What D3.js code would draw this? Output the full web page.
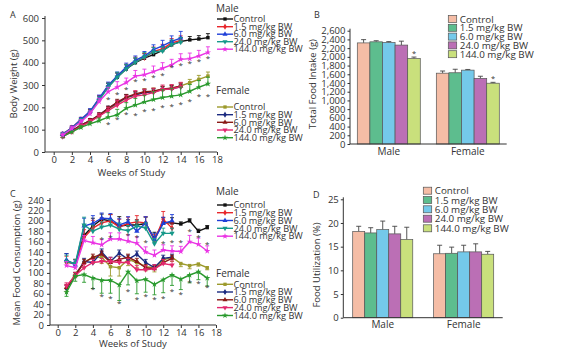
<!DOCTYPE html>
<html>
<head>
<meta charset="utf-8">
<script src="https://cdn.jsdelivr.net/npm/d3@7"></script>
<style>
    body { margin: 0; background: #fff; }
    text { font-family: "Open Sans", "Noto Sans", sans-serif; fill: #333; }
</style>
</head>
<body>
<svg id="fig" width="561" height="352"></svg>
<script>
// ---- shared
const doses = ["Control", "1.5 mg/kg BW", "6.0 mg/kg BW", "24.0 mg/kg BW", "144.0 mg/kg BW"];
const weeks17 = [1,2,3,4,5,6,7,8,9,10,11,12,13,14,15,16,17];
const weeks14 = [1,2,3,4,5,6,7,8,9,10,11,12,13,14];
const weeks13 = [1,2,3,4,5,6,7,8,9,10,11,12,13];
const weekTicks = [0,2,4,6,8,10,12,14,16,18];

// ---- A: body weight (g)
const bwMaleCtrl = [78,105,140,178,235,292,335,372,400,420,436,455,480,495,502,506,512];
const bwMale15   = [80,108,145,180,238,295,338,375,405,422,450,462,488,500];
const bwMale60   = [80,108,145,182,240,298,340,380,410,430,458,475,495,510];
const bwMale240  = [78,105,140,175,232,290,335,372,402,425,448,452,482,492];
const bwMale1440 = [76,105,135,172,226,270,290,311,340,346,360,375,390,415,418,430,446];
const bwFemCtrl  = [70,95,115,138,160,192,215,242,255,268,272,280,286,296,310,325,340];
const bwFem15    = [70,95,120,140,165,195,220,245,256,266,270,280,284,292];
const bwFem60    = [70,95,120,140,165,195,224,246,260,270,272,282,286,296];
const bwFem240   = [70,90,115,135,160,185,210,232,250,256,266,280,282,292];
const bwFem1440  = [70,90,110,126,140,156,166,196,210,224,235,244,250,256,272,290,305];
const bwMaleErr  = [[8,8,10,12,15,15,18,18,20,20,20,18,18,18,15,15,18],
                    [8,10,10,12,15,15,18,18,20,20,20,20,20,20],
                    [8,8,10,12,15,15,18,18,20,20,22,25,25,30],
                    [8,8,10,12,15,18,22,20,20,20,20,20,20,20],
                    [8,8,10,12,15,20,25,20,25,25,25,25,25,25,25,25,25]];
const bwFemErr   = [[8,8,8,8,10,10,12,15,15,15,15,15,15,15,15,18,18],
                    [8,8,8,10,10,10,12,12,12,12,12,12,12,12],
                    [8,8,8,10,10,10,12,12,12,12,12,12,12,12],
                    [8,8,8,10,12,15,20,20,25,25,20,20,20,20],
                    [8,8,8,10,12,20,25,25,30,30,35,35,35,35,30,30,30]];
const bwStars = [[6,244],[7,266],[8,286],[9,323],[10,326],[11,341],[12,350],[13,383],[14,394],[15,404],[16,413],[17,425],
                 [6,129],[7,151],[8,174],[9,169],[10,189],[11,192],[12,204],[13,211],[14,219],[15,234],[16,256],[17,256]];

// ---- C: mean food consumption (g)
const fcMaleCtrl = [122,118,172,190,203,200,190,192,192,195,166,196,196,194,200,180,187];
const fcMale15   = [120,118,168,186,196,200,188,195,198,196,162,203,186];
const fcMale60   = [125,115,190,195,205,204,192,198,180,196,164,195,200];
const fcMale240  = [122,118,192,180,188,192,184,181,190,186,156,176,176];
const fcMale1440 = [114,110,162,158,154,165,165,161,157,140,134,144,142,141,160,155,142];
const fcFemCtrl  = [70,98,120,130,130,112,110,126,120,112,110,125,130,118,114,117,110];
const fcFem15    = [70,95,122,120,140,122,138,126,136,120,110,128,130];
const fcFem60    = [72,95,120,130,136,120,126,130,122,110,108,120,128];
const fcFem240   = [75,95,110,120,122,122,120,120,106,106,108,118,115];
const fcFem1440  = [63,94,97,90,86,86,77,102,85,88,78,87,96,88,96,102,90];
const fcMaleErr  = [[15,8,20,15,10,12,18,10,10,12,12,10,10,4,4,4,4],
                    [12,8,15,15,10,12,15,12,12,12,12,15,10],
                    [12,8,15,15,10,10,12,10,10,12,12,12,12],
                    [12,8,15,12,10,10,12,10,10,10,10,10,10],
                    [8,6,10,12,10,12,12,12,12,10,10,10,10,10,12,12,10]];
const fcFemErr   = [[6,6,10,12,12,18,16,12,10,8,8,8,8,6,6,4,4],
                    [6,6,6,8,6,8,6,8,6,6,6,6,6],
                    [6,6,6,6,6,6,6,6,6,6,6,6,6],
                    [6,6,6,6,6,8,6,8,8,8,8,8,8],
                    [8,10,15,20,25,25,30,25,25,25,20,25,20,20,15,15,15]];
const fcStars = [[5,168],[6,171],[8,174],[9,170],[10,161],[12,160],[13,161],[14,161],[15,182],[16,171],[17,158],
                 [4,72],[5,58],[6,54],[7,45],[8,67],[9,51],[10,58],[11,51],[12,54],[13,67],[14,61],[15,84],[16,82],[17,74]];

// ---- B: total food intake (g)
const intakeMale      = [2320,2345,2330,2270,1960];
const intakeMaleErr   = [75,25,20,90,35];
const intakeFemale    = [1625,1635,1695,1505,1395];
const intakeFemaleErr = [50,80,15,50,20];

// ---- D: food utilization (%)
const utilMale      = [18.2,17.9,18.6,17.7,16.5];
const utilMaleErr   = [1.1,1.1,1.8,1.6,2.6];
const utilFemale    = [13.5,13.6,13.9,13.9,13.4];
const utilFemaleErr = [1.8,1.3,1.4,1.7,0.6];

const maleColors = ["#111111", "#e8262b", "#2040d8", "#17998a", "#ea34e4"];
const femColors  = ["#9c9a2c", "#1b2a80", "#8a1a16", "#e2286e", "#2a9a2e"];
const barColors  = ["#f5bda6", "#5dbd8e", "#74c9ea", "#bb6fb5", "#c9e07c"];
const symbols = [d3.symbolSquare, d3.symbolDiamond, d3.symbolTriangle, d3.symbolTriangle, d3.symbolStar];

const svg = d3.select("#fig");

function linePanel(o) {
    const g = svg.append("g");
    const x = d3.scaleLinear().domain([0, 18]).range(o.xr);
    const y = d3.scaleLinear().domain([0, o.ymax]).range(o.yr);

    // axes
    const xa = g.append("g").attr("transform", "translate(0," + o.yr[0] + ")")
        .call(d3.axisBottom(x).tickValues(weekTicks).tickSize(3).tickSizeOuter(0));
    xa.select(".domain").remove();
    xa.selectAll("text").attr("font-size", 9.5).attr("y", 4);
    const ya = g.append("g").attr("transform", "translate(" + o.x0 + ",0)")
        .call(d3.axisLeft(y).tickValues(d3.range(0, o.ymax + 1, o.ystep)).tickSize(3).tickSizeOuter(0));
    ya.select(".domain").remove();
    ya.selectAll("text").attr("font-size", 9.5);
    g.selectAll(".tick line").attr("stroke", "#333");
    g.append("line").attr("x1", o.x0).attr("x2", o.x0).attr("y1", o.yr[0]).attr("y2", o.yr[1] - 2).attr("stroke", "#333");
    g.append("line").attr("x1", o.x0).attr("x2", o.xr[1]).attr("y1", o.yr[0]).attr("y2", o.yr[0]).attr("stroke", "#333");

    g.append("text").attr("x", (o.xr[0] + o.xr[1]) / 2 - 4).attr("y", o.xtitleY)
        .attr("text-anchor", "middle").attr("font-size", 9.5).text("Weeks of Study");
    g.append("text").attr("transform", "translate(" + o.ytitleX + "," + o.ytitleY + ") rotate(-90)")
        .attr("text-anchor", "middle").attr("font-size", 9.5).text(o.ytitle);
    g.append("text").attr("x", o.letter[0]).attr("y", o.letter[1]).attr("font-size", 9).text(o.letterText);

    const line = d3.line().x(d => x(d[0])).y(d => y(d[1]));

    o.series.forEach(function (s) {
        const pts = s.values.map((v, i) => [s.weeks[i], v]);
        const col = s.color;
        // error bars
        pts.forEach(function (p, i) {
            const e = s.err[i] * s.dir;
            g.append("line").attr("x1", x(p[0])).attr("x2", x(p[0]))
                .attr("y1", y(p[1])).attr("y2", y(p[1] + e)).attr("stroke", col).attr("stroke-width", 0.9);
            g.append("line").attr("x1", x(p[0]) - 2).attr("x2", x(p[0]) + 2)
                .attr("y1", y(p[1] + e)).attr("y2", y(p[1] + e)).attr("stroke", col).attr("stroke-width", 0.9);
        });
        g.append("path").datum(pts).attr("d", line).attr("fill", "none")
            .attr("stroke", col).attr("stroke-width", 1.4);
        g.selectAll(null).data(pts).enter().append("path")
            .attr("d", d3.symbol().type(symbols[s.k]).size(12))
            .attr("transform", d => "translate(" + x(d[0]) + "," + y(d[1]) + ")" + (s.k === 3 ? " rotate(180)" : ""))
            .attr("fill", col);
    });

    g.selectAll(null).data(o.stars).enter().append("text")
        .attr("x", d => x(d[0])).attr("y", d => y(d[1]) + 4)
        .attr("text-anchor", "middle").attr("font-size", 8).attr("fill", "#222").text("*");

    // legends
    o.legends.forEach(function (L) {
        g.append("text").attr("x", L.x - 1).attr("y", L.titleY + 3.5).attr("font-size", 10).text(L.title);
        L.rows.forEach(function (ry, k) {
            g.append("line").attr("x1", L.x).attr("x2", L.x + 16).attr("y1", ry).attr("y2", ry)
                .attr("stroke", L.colors[k]).attr("stroke-width", 1.4);
            g.append("path").attr("d", d3.symbol().type(symbols[k]).size(11)())
                .attr("transform", "translate(" + (L.x + 8) + "," + ry + ")" + (k === 3 ? " rotate(180)" : ""))
                .attr("fill", L.colors[k]);
            g.append("text").attr("x", L.x + 16.5).attr("y", ry + 3.2).attr("font-size", 9.2).text(doses[k]);
        });
    });
}

function barPanel(o) {
    const g = svg.append("g");
    const y = d3.scaleLinear().domain([0, o.ymax]).range(o.yr);
    const x0 = d3.scaleBand().domain(["Male", "Female"]).range(o.br).paddingInner(o.pin);
    const x1 = d3.scaleBand().domain(doses).range([0, x0.bandwidth()]);

    const ya = g.append("g").attr("transform", "translate(" + o.x0 + ",0)")
        .call(d3.axisLeft(y).tickValues(d3.range(0, o.ymax + 1, o.ystep)).tickSize(2.5).tickSizeOuter(0).tickFormat(o.fmt));
    ya.select(".domain").remove();
    ya.selectAll("text").attr("font-size", 9.5).attr("dx", "0.1em");
    ya.selectAll(".tick line").attr("stroke", "#333");
    g.append("line").attr("x1", o.x0).attr("x2", o.x0).attr("y1", o.yr[0]).attr("y2", o.yr[1] - 2).attr("stroke", "#333");

    const groups = [["Male", o.male, o.maleErr], ["Female", o.female, o.femaleErr]];
    groups.forEach(function (gr) {
        const gx = x0(gr[0]);
        gr[1].forEach(function (v, k) {
            const bx = gx + x1(doses[k]);
            const cx = bx + x1.bandwidth() / 2;
            const top = y(v + gr[2][k]);
            g.append("line").attr("x1", cx).attr("x2", cx)
                .attr("y1", y(v)).attr("y2", top).attr("stroke", "#444").attr("stroke-width", 0.9);
            g.append("line").attr("x1", cx - 2.5).attr("x2", cx + 2.5)
                .attr("y1", top).attr("y2", top).attr("stroke", "#444").attr("stroke-width", 0.9);
            g.append("rect").attr("x", bx).attr("y", y(v)).attr("width", x1.bandwidth())
                .attr("height", y(0) - y(v)).attr("fill", barColors[k])
                .attr("stroke", "#555").attr("stroke-width", 0.7);
            if (o.stars && k === 4) {
                g.append("text").attr("x", cx).attr("y", top - 1.5)
                    .attr("text-anchor", "middle").attr("font-size", 7.5).attr("fill", "#444").text("*");
            }
        });
        g.append("text").attr("x", gx + x0.bandwidth() / 2).attr("y", o.xlabY)
            .attr("text-anchor", "middle").attr("font-size", 10).text(gr[0]);
    });
    g.append("line").attr("x1", o.x0).attr("x2", o.xend).attr("y1", o.yr[0]).attr("y2", o.yr[0]).attr("stroke", "#333");

    g.append("text").attr("transform", "translate(" + o.ytitleX + "," + o.ytitleY + ") rotate(-90)")
        .attr("text-anchor", "middle").attr("font-size", 9.5).text(o.ytitle);
    g.append("text").attr("x", o.letter[0]).attr("y", o.letter[1]).attr("font-size", 9).text(o.letterText);

    o.legendRows.forEach(function (ry, k) {
        g.append("rect").attr("x", o.legendX).attr("y", ry - 3.5).attr("width", 8.4).attr("height", 7)
            .attr("fill", barColors[k]).attr("stroke", "#555").attr("stroke-width", 0.7);
        g.append("text").attr("x", o.legendX + 11.5).attr("y", ry + 3.5).attr("font-size", 9.8).text(doses[k]);
    });
}

function series(arrs, errs, weeksList, colors, dirs) {
    return arrs.map((a, k) => ({ values: a, err: errs[k], weeks: weeksList[k], color: colors[k], k: k, dir: dirs[k] }));
}

// A
linePanel({
    xr: [53.7, 217], yr: [152, 18], x0: 45, ymax: 600, ystep: 100,
    ytitle: "Body Weight (g)", ytitleX: 17, ytitleY: 84, xtitleY: 175.5,
    letter: [10, 18], letterText: "A",
    series: series([bwFemCtrl, bwFem15, bwFem60, bwFem240, bwFem1440], bwFemErr,
                   [weeks17, weeks14, weeks14, weeks14, weeks17], femColors, [1,1,1,1,1])
        .concat(series([bwMaleCtrl, bwMale15, bwMale60, bwMale240, bwMale1440], bwMaleErr,
                   [weeks17, weeks14, weeks14, weeks14, weeks17], maleColors, [1,1,1,1,1])),
    stars: bwStars,
    legends: [
        { x: 217, title: "Male", titleY: 8, colors: maleColors, rows: [19, 26.7, 34.2, 41.7, 49.2] },
        { x: 217, title: "Female", titleY: 90, colors: femColors, rows: [107, 114.7, 122.3, 130, 137.7] }
    ]
});

// C
linePanel({
    xr: [57.7, 216], yr: [325, 200], x0: 50, ymax: 240, ystep: 20,
    ytitle: "Mean Food Consumption (g)", ytitleX: 20, ytitleY: 263, xtitleY: 347,
    letter: [10, 197], letterText: "C",
    series: series([fcFemCtrl, fcFem15, fcFem60, fcFem240, fcFem1440], fcFemErr,
                   [weeks17, weeks13, weeks13, weeks13, weeks17], femColors, [-1,1,1,1,-1])
        .concat(series([fcMaleCtrl, fcMale15, fcMale60, fcMale240, fcMale1440], fcMaleErr,
                   [weeks17, weeks13, weeks13, weeks13, weeks17], maleColors, [1,1,1,1,1])),
    stars: fcStars,
    legends: [
        { x: 217, title: "Male", titleY: 191.7, colors: maleColors, rows: [205, 212.7, 220.5, 228.3, 236.2] },
        { x: 217, title: "Female", titleY: 273.7, colors: femColors, rows: [284.3, 292, 299.8, 307.6, 315.5] }
    ]
});

// B
barPanel({
    yr: [144, 30.7], ymax: 2600, ystep: 200, fmt: d3.format(","),
    x0: 350, xend: 506.7, br: [357.3, 499.3], pin: 0.203, xlabY: 155,
    male: intakeMale, maleErr: intakeMaleErr, female: intakeFemale, femaleErr: intakeFemaleErr, stars: true,
    ytitle: "Total Food Intake (g)", ytitleX: 316, ytitleY: 84,
    letter: [314, 18], letterText: "B",
    legendX: 448.3, legendRows: [19, 27.8, 36.6, 45.4, 54.2]
});

// D
barPanel({
    yr: [317.7, 199.3], ymax: 25, ystep: 5, fmt: d3.format("d"),
    x0: 343.3, xend: 502.7, br: [352.7, 493.7], pin: 0.258, xlabY: 328,
    male: utilMale, maleErr: utilMaleErr, female: utilFemale, femaleErr: utilFemaleErr, stars: false,
    ytitle: "Food Utilization (%)", ytitleX: 320, ytitleY: 265,
    letter: [313, 198], letterText: "D",
    legendX: 423.3, legendRows: [190.7, 200, 209.3, 218.7, 228.3]
});
</script>
</body>
</html>
